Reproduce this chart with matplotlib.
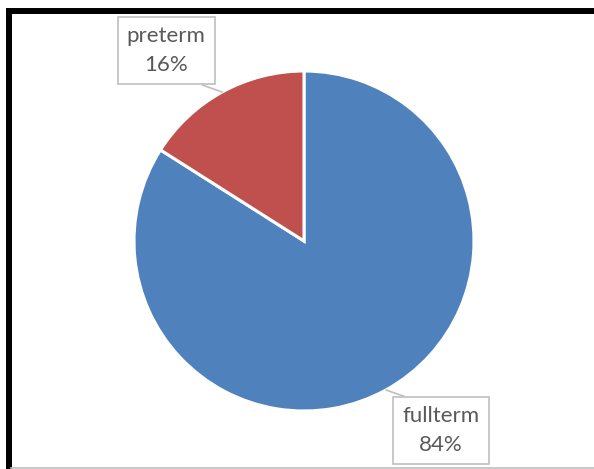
import numpy as np
import matplotlib
matplotlib.use("Agg")
import matplotlib.pyplot as plt
from matplotlib.patches import Rectangle
from matplotlib.lines import Line2D

labels = ["fullterm", "preterm"]
shares = [84, 16]
colors = ["#4F81BD", "#C0504D"]

W, H = 594, 469
fig = plt.figure(figsize=(W / 100, H / 100), dpi=100)

# pie axes: centre (304, 241) px, radius 170 px
cx, cy, r = 304, 241, 170
ax = fig.add_axes([(cx - r) / W, (H - cy - r) / H, 2 * r / W, 2 * r / H])
wedges, _ = ax.pie(shares, colors=colors, startangle=90, counterclock=False,
                   radius=1, wedgeprops=dict(edgecolor="white", linewidth=2.2))
ax.set_xlim(-1, 1)
ax.set_ylim(-1, 1)
ax.set_aspect("equal")
ax.axis("off")

# label box positions (axes data units) and leader start on box
label_pos = {"fullterm": (0.805, -1.115), "preterm": (-0.81, 1.12)}
relpos = {"fullterm": (0.39, 1.0), "preterm": (0.6, 0.0)}

for w, lab, val in zip(wedges, labels, shares):
    mid = np.deg2rad((w.theta1 + w.theta2) / 2)
    anchor = (np.cos(mid), np.sin(mid))
    ax.annotate(f"{lab}\n{val}%", xy=anchor, xytext=label_pos[lab],
                ha="center", va="center", fontsize=16, family="Lato",
                color="#595959", linespacing=1.55, annotation_clip=False,
                bbox=dict(boxstyle="square,pad=0.42", fc="white", ec="#BFBFBF", lw=1.2),
                arrowprops=dict(arrowstyle="-", color="#BFBFBF", lw=1.2,
                                relpos=relpos[lab], shrinkA=0, shrinkB=0))

# outer frame: thick black on top and left, thin grey line at bottom
fig.patches.append(Rectangle((9 / W, -0.05), 1.1, 1 - 11 / H + 0.05,
                             transform=fig.transFigure, fill=False,
                             edgecolor="black", linewidth=4.3))
fig.lines.append(Line2D([11 / W, 1], [1 - 467.5 / H, 1 - 467.5 / H],
                        transform=fig.transFigure, color="#BFBFBF", linewidth=1.2))

fig.savefig("out.png", dpi=100)
